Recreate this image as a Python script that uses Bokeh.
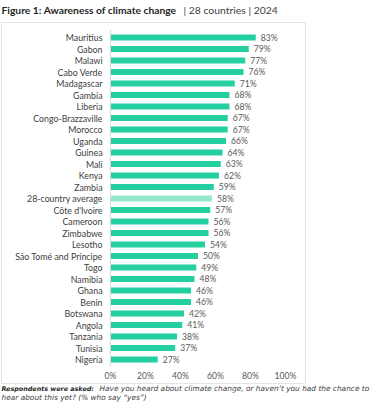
from bokeh.plotting import figure
from bokeh.models import Range1d, ColumnDataSource
from bokeh.core.properties import value
from bokeh.embed import file_html
from bokeh.resources import INLINE

countries = ["Mauritius", "Gabon", "Malawi", "Cabo Verde", "Madagascar", "Gambia",
             "Liberia", "Congo-Brazzaville", "Morocco", "Uganda", "Guinea", "Mali",
             "Kenya", "Zambia", "28-country average", "Côte d'Ivoire", "Cameroon",
             "Zimbabwe", "Lesotho", "São Tomé and Príncipe", "Togo", "Namibia",
             "Ghana", "Benin", "Botswana", "Angola", "Tanzania", "Tunisia", "Nigeria"]
values = [83, 79, 77, 76, 71, 68, 68, 67, 67, 66, 64, 63, 62, 59, 58, 57, 56, 56,
          54, 50, 49, 48, 46, 46, 42, 41, 38, 37, 27]
tick_values = [0, 20, 40, 60, 80, 100]
tick_labels = ["0%", "20%", "40%", "60%", "80%", "100%"]

title_bold = "Figure 1: Awareness of climate change"
title_rest = "|  28 countries  |  2024"
note_bold = "Respondents were asked:"
note_line1 = "Have you heard about climate change, or haven’t you had the chance to"
note_line2 = "hear about this yet? (% who say “yes”)"

W, H = 375, 402
X0, PXU = 110, 1.75     # pixel of 0 %, pixels per percent
Y0, ROW = 37, 11.5      # pixel of first row, pixels per row


def X(px):
    return (px - X0) / PXU


def Y(py):
    return (py - Y0) / ROW


FONT = "Lato"
NOTE_FONT = "DejaVu Sans"
BAR = "#25d0a0"
AVG = "#95e8cd"

p = figure(width=W, height=H, output_backend="svg", toolbar_location=None,
           x_range=Range1d(X(0), X(W)), y_range=Range1d(Y(H), Y(0)),
           min_border=0, min_border_left=0, min_border_right=0,
           min_border_top=0, min_border_bottom=0)
p.axis.visible = False
p.grid.visible = False
p.outline_line_color = None
p.background_fill_color = "white"
p.border_fill_color = "white"

# panel box
p.quad(left=[X(1)], right=[X(305)], top=[Y(22)], bottom=[Y(383)],
       fill_color="white", line_color="#e4e4e4", line_width=1)

rows = list(range(len(countries)))
colors = [AVG if c == "28-country average" else BAR for c in countries]
labels = [f"{v}%" for v in values]
src = ColumnDataSource(dict(y=rows, v=values, c=countries, col=colors, lab=labels))

p.hbar(y="y", left=0, right="v", height=0.53, fill_color="col", line_color=None, source=src)

# axis line
p.segment(x0=[0], y0=[Y(29)], x1=[0], y1=[Y(366)], line_color="#d9d9d9", line_width=1)

p.text(x=X(102), y="y", text="c", source=src, text_align="right", text_baseline="middle",
       text_font=value(FONT), text_font_size="8.8px", text_color="#404040")
p.text(x="v", y="y", text="lab", source=src, x_offset=5, text_align="left",
       text_baseline="middle", text_font=value(FONT), text_font_size="8.6px",
       text_color="#595959")

p.text(x=tick_values, y=[Y(375)] * len(tick_values), text=tick_labels,
       text_align="center", text_baseline="middle", text_font=value(FONT),
       text_font_size="8.6px", text_color="#595959")

# title
p.text(x=[X(1)], y=[Y(9)], text=[title_bold], text_align="left", text_baseline="middle",
       text_font=value(FONT), text_font_style="bold", text_font_size="10.3px",
       text_color="#262626")
p.text(x=[X(183)], y=[Y(9)], text=[title_rest], text_align="left", text_baseline="middle",
       text_font=value(FONT), text_font_size="10.4px", text_color="#404040")

# footer
p.text(x=[X(1)], y=[Y(388)], text=[note_bold], text_align="left", text_baseline="middle",
       text_font=value(NOTE_FONT), text_font_style="bold italic", text_font_size="6.4px",
       text_color="#262626")
p.text(x=[X(99)], y=[Y(388)], text=[note_line1], text_align="left", text_baseline="middle",
       text_font=value(NOTE_FONT), text_font_style="italic", text_font_size="7.4px",
       text_color="#404040")
p.text(x=[X(1)], y=[Y(396.5)], text=[note_line2], text_align="left", text_baseline="middle",
       text_font=value(NOTE_FONT), text_font_style="italic", text_font_size="7.4px",
       text_color="#404040")

open("out.html", "w").write(file_html(p, INLINE))
